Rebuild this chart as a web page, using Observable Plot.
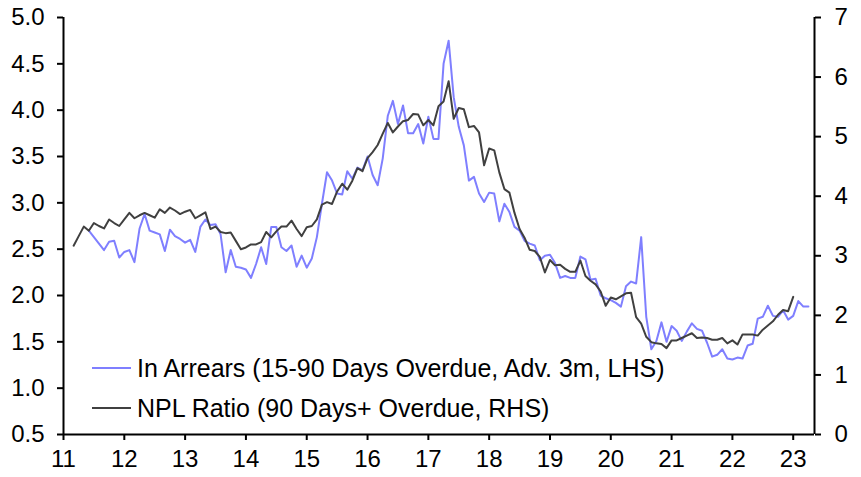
<!DOCTYPE html>
<html>
<head>
<meta charset="utf-8">
<script src="https://cdn.jsdelivr.net/npm/d3@7"></script>
<script src="https://cdn.jsdelivr.net/npm/@observablehq/plot@0.6"></script>
<style>
  body { margin: 0; background: #fff; }
  #wrap { position: relative; width: 861px; height: 477px; font-family: "Liberation Sans", Arial, sans-serif; }
  .lg { position: absolute; left: 92px; height: 30px; display: flex; align-items: center; font-size: 25px; color: #000; white-space: nowrap; }
  .lg .sw { display: inline-block; width: 39px; height: 2px; margin-right: 6px; }
</style>
</head>
<body>
<div id="wrap"></div>
<script>
// Series labels
const seriesNames = [
  "In Arrears (15-90 Days Overdue, Adv. 3m, LHS)",
  "NPL Ratio (90 Days+ Overdue, RHS)"
];
const seriesColors = ["#7f7fff", "#404040"];

// In Arrears (LHS, %), monthly from Jun 2011 (month index 5 from Jan 2011)
const arrearsStartMonth = 5;
const arrears = [
  2.70, 2.63, 2.56, 2.49, 2.58, 2.59, 2.41, 2.47, 2.49, 2.36,
  2.72, 2.88, 2.70, 2.68, 2.66, 2.48, 2.71, 2.64, 2.61, 2.57,
  2.60, 2.47, 2.74, 2.82, 2.76, 2.77, 2.66, 2.25, 2.49, 2.31,
  2.30, 2.28, 2.19, 2.34, 2.52, 2.34, 2.74, 2.74, 2.52, 2.48,
  2.54, 2.31, 2.43, 2.30, 2.40, 2.63, 2.99, 3.33, 3.24, 3.10,
  3.09, 3.34, 3.26, 3.38, 3.35, 3.50, 3.30, 3.19, 3.48, 3.94,
  4.10, 3.85, 4.05, 3.75, 3.75, 3.85, 3.64, 3.93, 3.69, 3.69,
  4.50, 4.75, 4.14, 3.82, 3.62, 3.24, 3.28, 3.10, 3.01, 3.11,
  3.10, 2.80, 2.99, 2.90, 2.74, 2.70, 2.59, 2.56, 2.54, 2.38,
  2.43, 2.44, 2.35, 2.19, 2.21, 2.19, 2.19, 2.42, 2.39, 2.17,
  2.18, 2.00, 1.97, 1.95, 1.92, 1.88, 2.10, 2.15, 2.13, 2.63,
  1.77, 1.42, 1.51, 1.71, 1.50, 1.67, 1.62, 1.51, 1.61, 1.70,
  1.64, 1.62, 1.49, 1.34, 1.36, 1.42, 1.32, 1.31, 1.33, 1.32,
  1.46, 1.48, 1.75, 1.77, 1.89, 1.78, 1.77, 1.84, 1.74, 1.78,
  1.94, 1.88, 1.88
];

// NPL Ratio (RHS, %), monthly from Mar 2011 (month index 2 from Jan 2011)
const nplStartMonth = 2;
const npl = [
  3.17, 3.33, 3.49, 3.42, 3.55, 3.50, 3.46, 3.61, 3.55, 3.50,
  3.61, 3.72, 3.63, 3.68, 3.72, 3.68, 3.64, 3.78, 3.72, 3.81,
  3.76, 3.70, 3.74, 3.77, 3.63, 3.68, 3.73, 3.45, 3.49, 3.40,
  3.38, 3.39, 3.25, 3.11, 3.14, 3.19, 3.19, 3.23, 3.40, 3.31,
  3.41, 3.49, 3.49, 3.59, 3.45, 3.33, 3.48, 3.50, 3.61, 3.86,
  3.90, 3.87, 4.08, 4.21, 4.11, 4.26, 4.47, 4.42, 4.64, 4.74,
  4.86, 5.05, 5.23, 5.07, 5.17, 5.26, 5.28, 5.38, 5.37, 5.19,
  5.28, 5.19, 5.51, 5.59, 5.93, 5.30, 5.48, 5.46, 5.16, 5.18,
  5.07, 4.52, 4.80, 4.77, 4.40, 4.12, 4.06, 3.72, 3.45, 3.30,
  3.10, 3.08, 2.98, 2.72, 2.93, 2.84, 2.85, 2.78, 2.73, 2.73,
  2.92, 2.66, 2.58, 2.52, 2.40, 2.16, 2.30, 2.27, 2.32, 2.37,
  2.38, 1.97, 1.86, 1.64, 1.55, 1.53, 1.52, 1.45, 1.58, 1.58,
  1.62, 1.66, 1.70, 1.62, 1.63, 1.62, 1.59, 1.59, 1.62, 1.53,
  1.58, 1.51, 1.68, 1.68, 1.68, 1.66, 1.76, 1.83, 1.90, 2.01,
  2.09, 2.07, 2.31
];

// Axis ticks
const xTicks = [11, 12, 13, 14, 15, 16, 17, 18, 19, 20, 21, 22, 23];
const leftTicks = [0.5, 1.0, 1.5, 2.0, 2.5, 3.0, 3.5, 4.0, 4.5, 5.0];
const rightTicks = [0, 1, 2, 3, 4, 5, 6, 7];

// Scale config
const xDomain = [11, 23.35];
const leftDomain = [0.5, 5.0];
const rightDomain = [0, 7];

// Map RHS value onto LHS scale
const toLeft = r => leftDomain[0] + (r - rightDomain[0]) * (leftDomain[1] - leftDomain[0]) / (rightDomain[1] - rightDomain[0]);
const fromLeft = l => rightDomain[0] + (l - leftDomain[0]) * (rightDomain[1] - rightDomain[0]) / (leftDomain[1] - leftDomain[0]);

const arrearsData = arrears.map((v, i) => ({x: 11 + (arrearsStartMonth + i) / 12, y: v}));
const nplData = npl.map((v, i) => ({x: 11 + (nplStartMonth + i) / 12, y: toLeft(v)}));

const chart = Plot.plot({
  width: 861,
  height: 477,
  marginLeft: 63,
  marginRight: 47,
  marginTop: 17,
  marginBottom: 43,
  style: {fontFamily: "'Liberation Sans', Arial, sans-serif", fontSize: "24px", color: "#000", background: "#fff", overflow: "visible"},
  x: {domain: xDomain, label: null},
  y: {domain: leftDomain, label: null},
  marks: [
    Plot.line(arrearsData, {x: "x", y: "y", stroke: seriesColors[0], strokeWidth: 2}),
    Plot.line(nplData, {x: "x", y: "y", stroke: seriesColors[1], strokeWidth: 2}),
    Plot.ruleX([xDomain[0], xDomain[1]], {stroke: "#000", strokeWidth: 2}),
    Plot.ruleY([leftDomain[0]], {stroke: "#000", strokeWidth: 2}),
    Plot.axisY(leftTicks, {anchor: "left", tickSize: 6, tickPadding: 13, strokeWidth: 2, label: null, tickFormat: d3.format(".1f")}),
    Plot.axisY(rightTicks.map(toLeft), {anchor: "right", tickSize: 6, tickPadding: 14, strokeWidth: 2, label: null, tickFormat: d => String(Math.round(fromLeft(d)))}),
    Plot.axisX(xTicks, {anchor: "bottom", tickSize: 6, tickPadding: 9, strokeWidth: 2, label: null, tickFormat: d => String(d)})
  ]
});

const wrap = document.getElementById("wrap");
wrap.appendChild(chart);

const legendTops = [353, 393];
seriesNames.forEach((name, i) => {
  const row = document.createElement("div");
  row.className = "lg";
  row.style.top = legendTops[i] + "px";
  const sw = document.createElement("span");
  sw.className = "sw";
  sw.style.background = seriesColors[i];
  row.appendChild(sw);
  row.appendChild(document.createTextNode(name));
  wrap.appendChild(row);
});
</script>
</body>
</html>
